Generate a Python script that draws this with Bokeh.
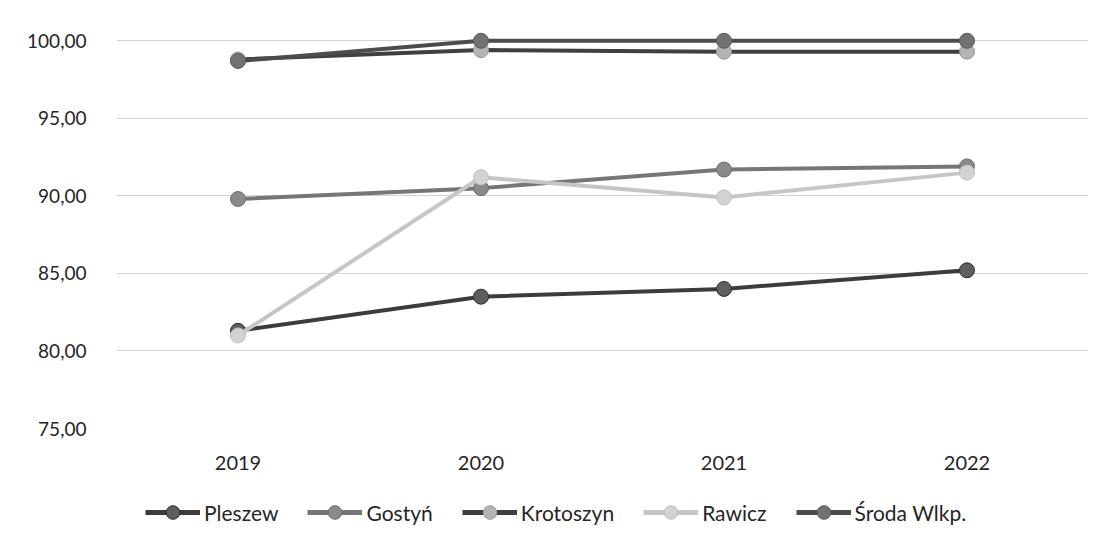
from bokeh.plotting import figure
from bokeh.layouts import column
from bokeh.models import FactorRange, Range1d, Legend, LegendItem, CustomJSTickFormatter, FixedTicker
from bokeh.embed import file_html
from bokeh.resources import INLINE

years = ["2019", "2020", "2021", "2022"]
pleszew = [81.3, 83.5, 84.0, 85.2]
gostyn = [89.8, 90.5, 91.7, 91.9]
krotoszyn = [98.8, 99.4, 99.3, 99.3]
rawicz = [81.0, 91.2, 89.9, 91.5]
sroda = [98.7, 100.0, 100.0, 100.0]
y_ticks = [75, 80, 85, 90, 95, 100]

series = [
    ("Pleszew", pleszew, "#3c3c3c", "#5e5e5e", "#2e2e2e"),
    ("Gostyń", gostyn, "#767676", "#8a8a8a", "#6e6e6e"),
    ("Krotoszyn", krotoszyn, "#3f3f3f", "#b4b4b4", "#9a9a9a"),
    ("Rawicz", rawicz, "#c6c6c6", "#d2d2d2", "#c0c0c0"),
    ("Środa Wlkp.", sroda, "#4c4c4c", "#727272", "#5a5a5a"),
]

FONT = "Lato"
TEXT = "#262626"

p = figure(width=1093, height=483, x_range=FactorRange(*years),
           y_range=Range1d(75, 100.6), output_backend="svg", toolbar_location=None,
           min_border_left=116, min_border_right=5, min_border_top=31, min_border_bottom=55)
p.x_range.range_padding = 0
p.outline_line_color = None

p.xgrid.grid_line_color = None
p.ygrid.grid_line_color = "#d2d2d2"
p.ygrid.grid_line_width = 1

p.yaxis.ticker = FixedTicker(ticks=y_ticks)
p.yaxis.formatter = CustomJSTickFormatter(code="return tick.toFixed(2).replace('.', ',');")
for ax in (p.xaxis[0], p.yaxis[0]):
    ax.axis_line_color = None
    ax.major_tick_line_color = None
    ax.minor_tick_line_color = None
    ax.major_label_text_font = FONT
    ax.major_label_text_color = TEXT
p.yaxis.major_label_text_font_size = "19px"
p.xaxis.major_label_text_font_size = "20px"
p.yaxis.major_label_standoff = 24
p.xaxis.major_label_standoff = 21

for name, vals, lc, fc, oc in series:
    p.line(years, vals, line_color=lc, line_width=4)
    p.scatter(years, vals, size=15, fill_color=fc, line_color=oc, line_width=1)

# legend strip (its renderers use the same data, outside its visible y range)
q = figure(width=1093, height=53, x_range=FactorRange(*years), y_range=Range1d(0, 1),
           output_backend="svg", toolbar_location=None,
           min_border_left=0, min_border_right=0, min_border_top=0, min_border_bottom=0)
q.axis.visible = False
q.grid.visible = False
q.outline_line_color = None

items = []
for name, vals, lc, fc, oc in series:
    r1 = q.line(years, vals, line_color=lc, line_width=5)
    r2 = q.scatter(years, vals, size=15, fill_color=fc, line_color=oc, line_width=1)
    items.append(LegendItem(label=name, renderers=[r1, r2]))

legend = Legend(items=items, orientation="horizontal", location=(29, 7),
                label_text_font=FONT, label_text_font_size="21px", label_text_color=TEXT,
                glyph_width=55, glyph_height=34, label_standoff=4, spacing=29, padding=0,
                margin=0, border_line_color=None, background_fill_alpha=0)
q.add_layout(legend)

layout = column(p, q, spacing=0)
open("out.html", "w").write(file_html(layout, INLINE))
